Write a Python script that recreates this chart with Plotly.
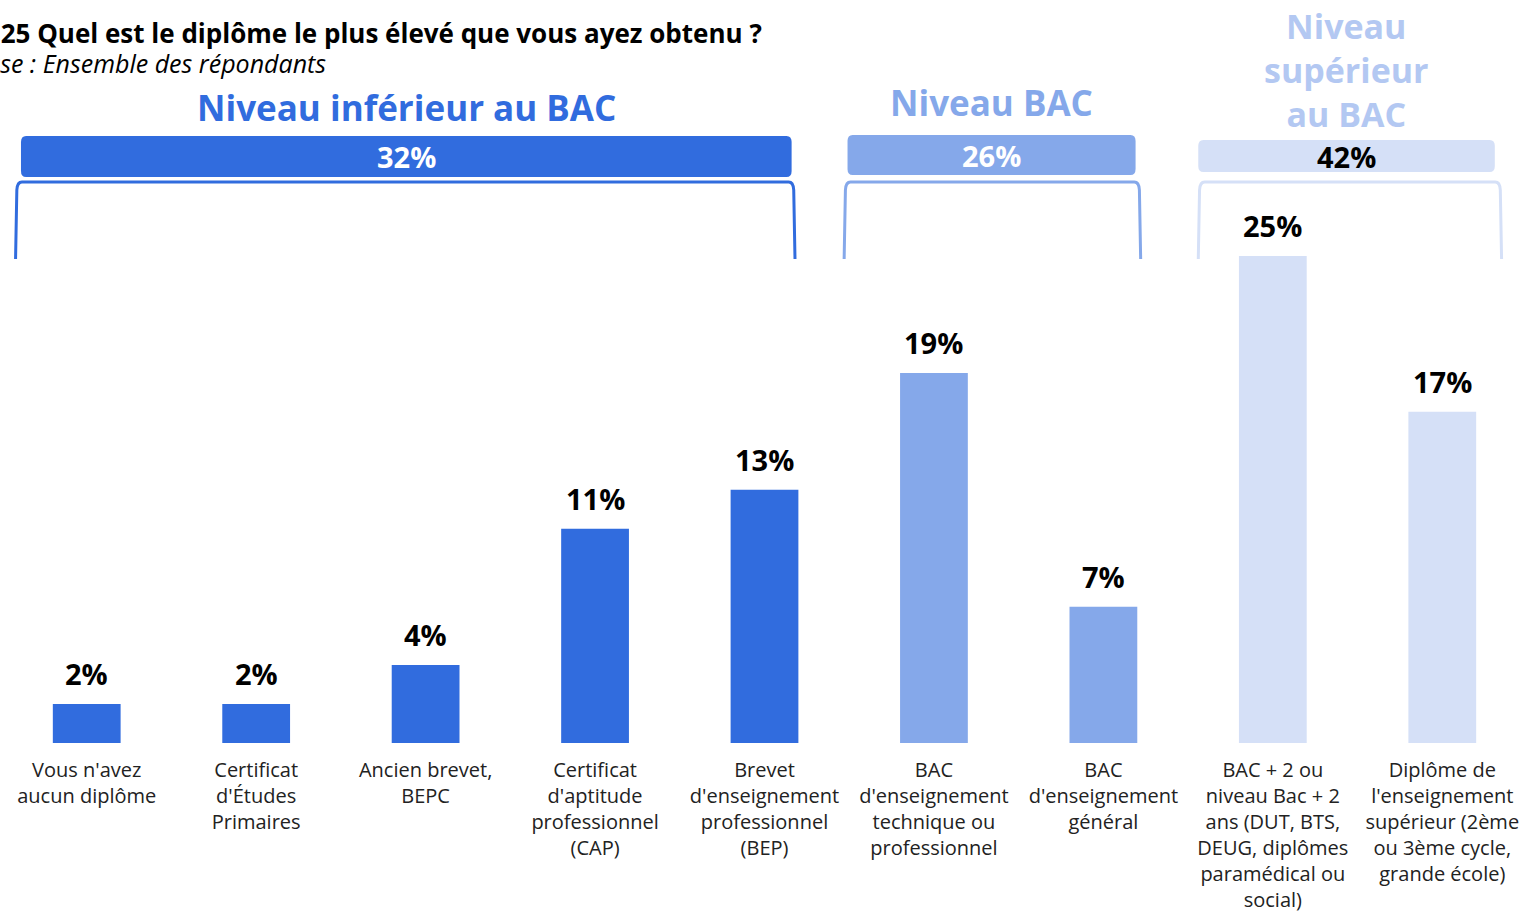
import plotly.graph_objects as go

# Survey results: highest diploma obtained
categories = [
    "Vous n'avez<br>aucun diplôme",
    "Certificat<br>d'Études<br>Primaires",
    "Ancien brevet,<br>BEPC",
    "Certificat<br>d'aptitude<br>professionnel<br>(CAP)",
    "Brevet<br>d'enseignement<br>professionnel<br>(BEP)",
    "BAC<br>d'enseignement<br>technique ou<br>professionnel",
    "BAC<br>d'enseignement<br>général",
    "BAC + 2 ou<br>niveau Bac + 2<br>ans (DUT, BTS,<br>DEUG, diplômes<br>paramédical ou<br>social)",
    "Diplôme de<br>l'enseignement<br>supérieur (2ème<br>ou 3ème cycle,<br>grande école)",
]
values = [2, 2, 4, 11, 13, 19, 7, 25, 17]
group_of_bar = [0, 0, 0, 0, 0, 1, 1, 2, 2]

group_names = ["Niveau inférieur au BAC", "Niveau BAC", "Niveau<br>supérieur<br>au BAC"]
group_totals = [32, 26, 42]
group_colors = ["#316CDE", "#85A8EA", "#D5E0F7"]
group_title_colors = ["#316CDE", "#85A8EA", "#B3C8F2"]
group_total_text_colors = ["white", "white", "black"]
# horizontal extent of each group header (axis units)
group_x0 = [-0.388, 4.49, 6.56]
group_x1 = [4.16, 6.19, 8.31]
bracket_x0 = [-0.42, 4.47, 6.56]
bracket_x1 = [4.18, 6.22, 8.35]

FONT = "Open Sans"
W, H = 1527, 912
M_L, M_R, M_T, M_B = 2, 0, 256, 169
PLOT_H = H - M_T - M_B


def py(pix):
    """Pixel row -> paper y."""
    return (H - M_B - pix) / PLOT_H


def px(pix):
    """Pixel column -> paper x."""
    return (pix - M_L) / (W - M_L - M_R)


xs = list(range(len(values)))
fig = go.Figure(go.Bar(
    x=xs,
    y=values,
    width=0.4,
    marker=dict(color=[group_colors[g] for g in group_of_bar], line=dict(width=0)),
    hoverinfo="skip",
))

annotations = []
shapes = []

# value labels above bars
for x, v in zip(xs, values):
    annotations.append(dict(
        x=x, y=v, xref="x", yref="y", text=f"<b>{v}%</b>", showarrow=False,
        yanchor="bottom", yshift=9, font=dict(family=FONT, size=29, color="black"),
    ))

# group headers: title, rounded total bar and bracket
title_rows = [108, 102, 70]
header_top = [136, 135, 140]
header_bot = [177, 175, 172]
for g in range(3):
    x0, x1 = group_x0[g], group_x1[g]
    xm = (x0 + x1) / 2
    annotations.append(dict(
        x=xm, y=py(title_rows[g]), xref="x", yref="paper", text=f"<b>{group_names[g]}</b>",
        showarrow=False, xanchor="center", yanchor="middle",
        font=dict(family=FONT, size=35 if g < 2 else 34, color=group_title_colors[g]),
    ))
    y0, y1 = py(header_bot[g]), py(header_top[g])
    r = 0.03
    ry = 6 / PLOT_H
    shapes.append(dict(
        type="path", xref="x", yref="paper", line=dict(width=0), fillcolor=group_colors[g],
        path=(f"M {x0+r},{y0} L {x1-r},{y0} Q {x1},{y0} {x1},{y0+ry} "
              f"L {x1},{y1-ry} Q {x1},{y1} {x1-r},{y1} L {x0+r},{y1} "
              f"Q {x0},{y1} {x0},{y1-ry} L {x0},{y0+ry} Q {x0},{y0} {x0+r},{y0} Z"),
    ))
    annotations.append(dict(
        x=xm, y=(y0 + y1) / 2, xref="x", yref="paper", text=f"<b>{group_totals[g]}%</b>",
        showarrow=False, xanchor="center", yanchor="middle",
        font=dict(family=FONT, size=29, color=group_total_text_colors[g]),
    ))
    bx0, bx1 = bracket_x0[g], bracket_x1[g]
    bt, bb = py(182), py(259)
    c = 0.025
    cy = 8 / PLOT_H
    shapes.append(dict(
        type="path", xref="x", yref="paper",
        line=dict(color=group_colors[g], width=3),
        path=(f"M {bx0},{bb} L {bx0+c*0.3},{bt-cy} Q {bx0+c*0.4},{bt} {bx0+c*1.5},{bt} "
              f"L {bx1-c*1.5},{bt} Q {bx1-c*0.4},{bt} {bx1-c*0.3},{bt-cy} L {bx1},{bb}"),
    ))

# question and base (left-aligned, start slightly off the page edge)
annotations.append(dict(
    x=px(-22), y=py(33), xref="paper", yref="paper",
    text="<b>Q25 Quel est le diplôme le plus élevé que vous ayez obtenu ?</b>",
    showarrow=False, xanchor="left", yanchor="middle",
    font=dict(family=FONT, size=26, color="black"),
))
annotations.append(dict(
    x=px(-31), y=py(63), xref="paper", yref="paper",
    text="<i>Base : Ensemble des répondants</i>",
    showarrow=False, xanchor="left", yanchor="middle",
    font=dict(family=FONT, size=25, color="black"),
))

fig.update_layout(
    width=W, height=H,
    margin=dict(l=M_L, r=M_R, t=M_T, b=M_B, pad=0),
    paper_bgcolor="white", plot_bgcolor="white",
    showlegend=False,
    annotations=annotations,
    shapes=shapes,
    bargap=0.6,
)
fig.update_xaxes(
    range=[-0.5, len(values) - 0.5], tickmode="array", tickvals=xs, ticktext=categories,
    showgrid=False, zeroline=False, showline=False, ticks="", ticklabelstandoff=13,
    tickangle=0, automargin=False, tickfont=dict(family=FONT, size=20, color="#222222"),
)
fig.update_yaxes(range=[0, 25], visible=False, showgrid=False, zeroline=False,
                 automargin=False)

fig.write_html("out.html")
